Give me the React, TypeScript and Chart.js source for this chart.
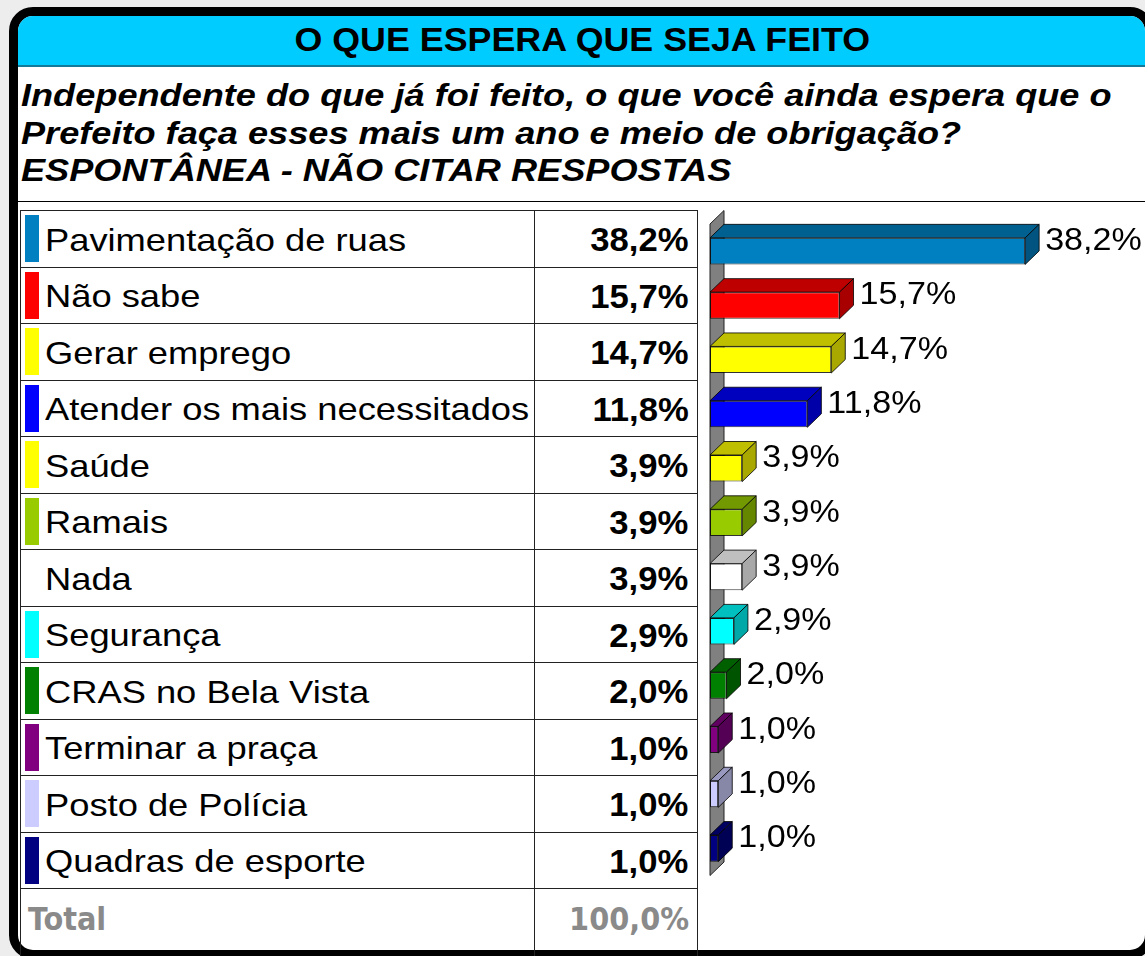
import React, { useEffect, useRef } from "react";
import { Chart, registerables } from "chart.js";

Chart.register(...registerables);

// ---------- data ----------
const titleText = "O QUE ESPERA QUE SEJA FEITO";
const subtitleLines = [
  "Independente do que já foi feito, o que você ainda espera que o",
  "Prefeito faça esses mais um ano e meio de obrigação?",
  "ESPONTÂNEA - NÃO CITAR RESPOSTAS",
];
const categories = [
  "Pavimentação de ruas",
  "Não sabe",
  "Gerar emprego",
  "Atender os mais necessitados",
  "Saúde",
  "Ramais",
  "Nada",
  "Segurança",
  "CRAS no Bela Vista",
  "Terminar a praça",
  "Posto de Polícia",
  "Quadras de esporte",
];
const values = [38.2, 15.7, 14.7, 11.8, 3.9, 3.9, 3.9, 2.9, 2.0, 1.0, 1.0, 1.0];
const totalLabel = "Total";
const totalValue = "100,0%";
const barColors = [
  "#0080C0",
  "#FF0000",
  "#FFFF00",
  "#0000FF",
  "#FFFF00",
  "#99CC00",
  "#FFFFFF",
  "#00FFFF",
  "#008000",
  "#800080",
  "#CCCCFF",
  "#000080",
];

// ---------- helpers ----------
const fmt = (v: number) => v.toFixed(1).replace(".", ",") + "%";
function shade(hex: string, f: number) {
  const n = parseInt(hex.slice(1), 16);
  const r = Math.round(((n >> 16) & 255) * f);
  const g = Math.round(((n >> 8) & 255) * f);
  const b = Math.round((n & 255) * f);
  return `rgb(${r},${g},${b})`;
}
const topColors = barColors.map((c) => shade(c, 0.75));
const sideColors = barColors.map((c) => shade(c, 0.66));

const SANS = '"Liberation Sans", Arial, sans-serif';
const DJ = '"DejaVu Sans Condensed", "DejaVu Sans", sans-serif';

type TxtProps = {
  x: number;
  baseline: number;
  size: number;
  text: string;
  weight?: string;
  italic?: boolean;
  color?: string;
  sx?: number;
  align?: "left" | "right" | "center";
  family?: string;
  asc?: number;
  desc?: number;
  stretch?: string;
};

function Txt({
  x,
  baseline,
  size,
  text,
  weight = "normal",
  italic = false,
  color = "#000",
  sx = 1,
  align = "left",
  family = SANS,
  asc = 0.905,
  desc = 0.212,
  stretch = "normal",
}: TxtProps) {
  const L = Math.ceil(size * 1.4);
  const top = baseline - (L - (asc + desc) * size) / 2 - asc * size;
  const W = 1400;
  const left = align === "left" ? x : align === "right" ? x - W : x - W / 2;
  return (
    <div
      style={{
        position: "absolute",
        left,
        top,
        width: W,
        height: L,
        lineHeight: `${L}px`,
        textAlign: align,
        whiteSpace: "nowrap",
        fontFamily: family,
        fontSize: size,
        fontWeight: weight as any,
        fontStyle: italic ? "italic" : "normal",
        fontStretch: stretch as any,
        color,
      }}
    >
      <span
        style={{
          display: "inline-block",
          transform: `scaleX(${sx})`,
          transformOrigin: `${align} center`,
        }}
      >
        {text}
      </span>
    </div>
  );
}

// ---------- geometry ----------
const TABLE_TOP = 210.7;
const ROW_H = 56.5;
const rowTop = (i: number) => TABLE_TOP + ROW_H * i;

const DEPTH_X = 14;
const DEPTH_Y = 13.5;

const bars3d = {
  id: "bars3d",
  beforeDatasetsDraw(chart: any) {
    const { ctx, chartArea } = chart;
    const { left, top, bottom } = chartArea;
    ctx.save();
    ctx.beginPath();
    ctx.moveTo(left, top);
    ctx.lineTo(left + DEPTH_X, top - DEPTH_Y);
    ctx.lineTo(left + DEPTH_X, bottom - DEPTH_Y);
    ctx.lineTo(left, bottom);
    ctx.closePath();
    ctx.fillStyle = "#808080";
    ctx.fill();
    ctx.strokeStyle = "#222";
    ctx.lineWidth = 1;
    ctx.stroke();
    ctx.restore();
  },
  afterDatasetsDraw(chart: any) {
    const ctx = chart.ctx;
    const meta = chart.getDatasetMeta(0);
    meta.data.forEach((el: any, i: number) => {
      const { x, y, base, height } = el.getProps(["x", "y", "base", "height"], true);
      const yTop = y - height / 2;
      const yBot = y + height / 2;
      ctx.save();
      ctx.lineWidth = 1;
      ctx.strokeStyle = "rgba(0,0,0,0.8)";
      // top face
      ctx.beginPath();
      ctx.moveTo(base, yTop);
      ctx.lineTo(base + DEPTH_X, yTop - DEPTH_Y);
      ctx.lineTo(x + DEPTH_X, yTop - DEPTH_Y);
      ctx.lineTo(x, yTop);
      ctx.closePath();
      ctx.fillStyle = topColors[i];
      ctx.fill();
      ctx.stroke();
      // side face
      ctx.beginPath();
      ctx.moveTo(x, yTop);
      ctx.lineTo(x + DEPTH_X, yTop - DEPTH_Y);
      ctx.lineTo(x + DEPTH_X, yBot - DEPTH_Y);
      ctx.lineTo(x, yBot);
      ctx.closePath();
      ctx.fillStyle = sideColors[i];
      ctx.fill();
      ctx.stroke();
      // label
      ctx.translate(x + DEPTH_X + 6, y - 1);
      ctx.scale(1.1, 1);
      ctx.font = `31px ${SANS}`;
      ctx.fillStyle = "#000";
      ctx.textBaseline = "alphabetic";
      ctx.textAlign = "left";
      ctx.fillText(fmt(values[i]), 0, 0);
      ctx.restore();
    });
  },
};

const CANVAS_LEFT = 698;
const CANVAS_TOP = 203;
const CANVAS_W = 447;
const CANVAS_H = 747;

function BarChart() {
  const ref = useRef<HTMLCanvasElement | null>(null);
  useEffect(() => {
    if (!ref.current) return;
    const chart = new Chart(ref.current, {
      type: "bar",
      data: {
        labels: categories,
        datasets: [
          {
            data: values,
            backgroundColor: barColors,
            borderColor: "rgba(0,0,0,0.8)",
            borderWidth: 1,
            borderSkipped: false,
            barPercentage: 0.49,
            categoryPercentage: 1,
          } as any,
        ],
      },
      options: {
        indexAxis: "y",
        responsive: false,
        animation: false,
        devicePixelRatio: 1,
        layout: { padding: { left: 12, right: 22.5, top: 21, bottom: 74.5 } },
        scales: {
          x: { min: 0, max: 50, display: false },
          y: { display: false },
        },
        plugins: {
          legend: { display: false },
          tooltip: { enabled: false },
        },
      },
      plugins: [bars3d],
    });
    return () => chart.destroy();
  }, []);
  return (
    <canvas
      ref={ref}
      width={CANVAS_W}
      height={CANVAS_H}
      style={{
        position: "absolute",
        left: CANVAS_LEFT,
        top: CANVAS_TOP,
        width: CANVAS_W,
        height: CANVAS_H,
      }}
    />
  );
}

export default function App() {
  const hLines = [];
  for (let i = 0; i <= categories.length; i++) {
    hLines.push(
      <div
        key={"h" + i}
        style={{
          position: "absolute",
          left: 20,
          top: Math.round(rowTop(i) - 0.5),
          width: 678,
          height: 1,
          background: "#222",
        }}
      />
    );
  }
  const vLines = [20, 534, 697].map((x) => (
    <div
      key={"v" + x}
      style={{
        position: "absolute",
        left: x,
        top: Math.round(TABLE_TOP - 0.5),
        width: 1,
        height: 960 - TABLE_TOP,
        background: "#222",
      }}
    />
  ));

  return (
    <div
      style={{
        position: "absolute",
        left: 0,
        top: 0,
        width: 1145,
        height: 956,
        overflow: "hidden",
        background: "#ededed",
      }}
    >
      {/* frame */}
      <div
        style={{
          position: "absolute",
          left: 9,
          top: 7,
          width: 1145,
          height: 952,
          border: "9px solid #000",
          borderRadius: 24,
          background: "#fff",
          boxSizing: "border-box",
          overflow: "hidden",
        }}
      >
        <div
          style={{
            position: "absolute",
            left: 0,
            top: 0,
            right: 0,
            height: 49,
            background: "#00CCFF",
            borderBottom: "2px solid #137a98",
          }}
        />
      </div>

      <Txt x={582} baseline={51} size={33} weight="bold" text={titleText} sx={1.085} align="center" />

      {subtitleLines.map((s, i) => (
        <Txt
          key={s}
          x={21}
          baseline={[106.7, 145, 181.7][i]}
          size={31}
          weight="bold"
          italic
          text={s}
          sx={1.166}
        />
      ))}

      <div
        style={{ position: "absolute", left: 18, top: 201, width: 1130, height: 1, background: "#000" }}
      />

      {hLines}
      {vLines}

      {categories.map((c, i) => (
        <React.Fragment key={c}>
          <div
            style={{
              position: "absolute",
              left: 25,
              top: rowTop(i) + 4.3,
              width: 14,
              height: 47,
              background: barColors[i],
            }}
          />
          <Txt x={45} baseline={rowTop(i) + 40} size={30.5} text={c} sx={1.19} />
          <Txt
            x={688.5}
            baseline={rowTop(i) + 40.3}
            size={33}
            weight="bold"
            text={fmt(values[i])}
            sx={1.05}
            align="right"
          />
        </React.Fragment>
      ))}

      <Txt
        x={28}
        baseline={930.7}
        size={32}
        weight="bold"
        text={totalLabel}
        color="#8a8a8a"
        family={DJ}
        stretch="condensed"
        asc={0.928}
        desc={0.236}
      />
      <Txt
        x={689}
        baseline={930.7}
        size={32}
        weight="bold"
        text={totalValue}
        color="#8a8a8a"
        family={DJ}
        stretch="condensed"
        asc={0.928}
        desc={0.236}
        align="right"
      />

      <BarChart />
    </div>
  );
}
